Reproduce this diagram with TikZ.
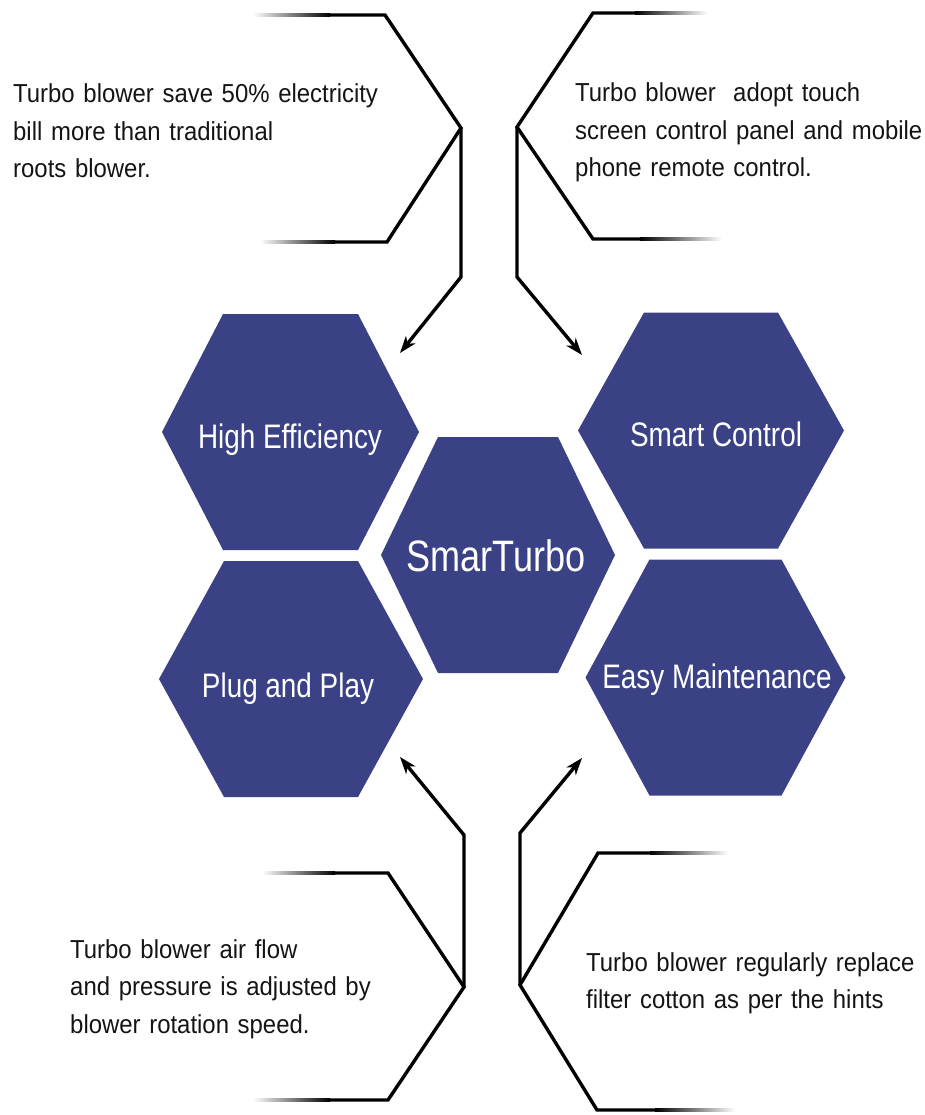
\documentclass[tikz,border=0pt]{standalone}
\usepackage{fontspec}
\setmainfont{Liberation Sans}
\newfontfamily\hexfont[FakeStretch=0.82]{Liberation Sans}
\newfontfamily\descfont[FakeStretch=0.92]{Liberation Sans}
\usetikzlibrary{arrows.meta}
\definecolor{hexblue}{RGB}{58,65,133}
\definecolor{txt}{RGB}{20,20,20}
\newcommand{\hexpath}[4]{\fill[hexblue] ({#1-#3},{#2}) -- ({#1-#4},{#2-118}) -- ({#1+#4},{#2-118}) -- ({#1+#3},{#2}) -- ({#1+#4},{#2+118}) -- ({#1-#4},{#2+118}) -- cycle;}
\begin{document}
\begin{tikzpicture}[x=1pt,y=-1pt,
 conn/.style={line width=3.4pt, line join=miter, draw=black},
 arr/.style={conn, -{Stealth[length=17pt,width=12pt,inset=5pt]}},
 desc/.style={anchor=base west, inner sep=0pt, text width=400pt, align=left, text=txt, font=\descfont\fontsize{26}{37.5}\selectfont},
 hexlabel/.style={anchor=base, inner sep=0pt, text=white, font=\hexfont\fontsize{34}{38}\selectfont},
 fadeL/.style={left color=white, right color=black},
 fadeR/.style={left color=black, right color=white},
]
\useasboundingbox (0,0) rectangle (925,1115);

% hexagons
\hexpath{290.5}{432}{128.5}{67.5}
\hexpath{711}{430.5}{133}{67}
\hexpath{498}{555}{117}{60}
\hexpath{291}{679}{132}{67}
\hexpath{715.5}{677.5}{130}{66}

\node[hexlabel] (he) at (290,448) {High Efficiency};
\node[hexlabel] (sc) at (716,446) {Smart Control};
\node[hexlabel, font=\hexfont\fontsize{44}{48}\selectfont] (st) at (496,571) {SmarTurbo};
\node[hexlabel] (pp) at (288,697) {Plug and Play};
\node[hexlabel] (em) at (717,688) {Easy Maintenance};

% top-left bracket
\coordinate (tlA) at (385,15);
\coordinate (tlV) at (461,128);
\coordinate (tlB) at (387,242);
\coordinate (tlE) at (461,277);
\coordinate (tlT) at (400,353);
\shade[fadeL] (253,13.3) rectangle (330,16.7);
\shade[fadeL] (260,240.3) rectangle (335,243.7);
\draw[conn] (330,15) -- (tlA) -- (tlV) -- (tlB) -- (335,242);
\draw[arr] (tlV) -- (tlE) -- (tlT);

% top-right bracket
\coordinate (trA) at (593,13);
\coordinate (trV) at (517,127);
\coordinate (trB) at (593,239);
\coordinate (trE) at (517,277);
\coordinate (trT) at (582,355);
\shade[fadeR] (635,11.3) rectangle (707,14.7);
\shade[fadeR] (640,237.3) rectangle (722,240.7);
\draw[conn] (635,13) -- (trA) -- (trV) -- (trB) -- (640,239);
\draw[arr] (trV) -- (trE) -- (trT);

% bottom-left bracket
\coordinate (blA) at (388,873);
\coordinate (blV) at (464,987);
\coordinate (blB) at (388,1100);
\coordinate (blE) at (464,835);
\coordinate (blT) at (400,757);
\shade[fadeL] (262,871.3) rectangle (335,874.7);
\shade[fadeL] (253,1098.3) rectangle (330,1101.7);
\draw[conn] (335,873) -- (blA) -- (blV) -- (blB) -- (330,1100);
\draw[arr] (blV) -- (blE) -- (blT);

% bottom-right bracket
\coordinate (brA) at (598,853);
\coordinate (brV) at (520,985);
\coordinate (brB) at (597,1110);
\coordinate (brE) at (520,833);
\coordinate (brT) at (582,758);
\shade[fadeR] (650,851.3) rectangle (728,854.7);
\shade[fadeR] (655,1108.3) rectangle (735,1111.7);
\draw[conn] (650,853) -- (brA) -- (brV) -- (brB) -- (655,1110);
\draw[arr] (brV) -- (brE) -- (brT);

% descriptions
\node[desc] (dtl) at (13,103) {Turbo blower save 50\% electricity\\bill more than traditional\\roots blower.};
\node[desc] (dtr) at (575,102) {Turbo blower\ \ adopt touch\\screen control panel and mobile\\phone remote control.};
\node[desc] (dbl) at (70,958) {Turbo blower air flow\\and pressure is adjusted by\\blower rotation speed.};
\node[desc] (dbr) at (586,971) {Turbo blower regularly replace\\filter cotton as per the hints};
\end{tikzpicture}
\end{document}
